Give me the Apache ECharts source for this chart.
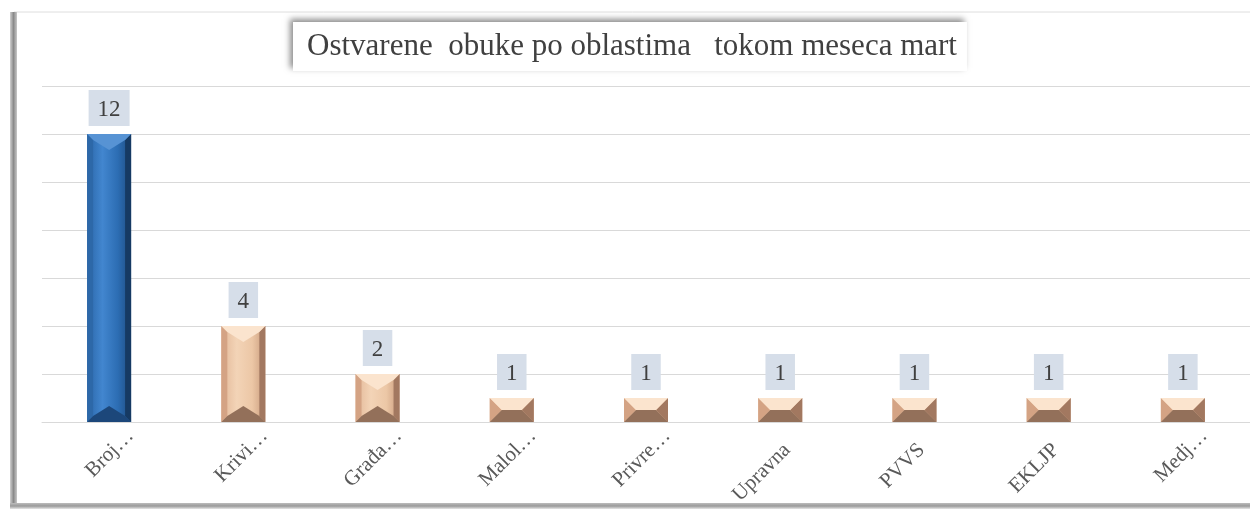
<!DOCTYPE html>
<html>
<head>
<meta charset="utf-8">
<title>Ostvarene obuke</title>
<script src="https://cdn.jsdelivr.net/npm/echarts@6/dist/echarts.min.js"></script>
<style>
  html, body { margin: 0; padding: 0; background: #fff; }
  #main { width: 1250px; height: 511px; }
</style>
</head>
<body>
<div id="main"></div>
<script>
// podaci
var categories = ['Broj…', 'Krivi…', 'Građa…', 'Malol…', 'Privre…', 'Upravna', 'PVVS', 'EKLJP', 'Medj…'];
var values = [12, 4, 2, 1, 1, 1, 1, 1, 1];
var yTicks = [0, 2, 4, 6, 8, 10, 12, 14];

var serif = '"Liberation Serif", "DejaVu Serif", serif';

// boje za 3D ivice (prva kolona plava, ostale bez)
var blue = { f0: '#2a66a8', f1: '#4286cf', f2: '#2c6db3', f3: '#1d4b80', top: '#5793d4', left: '#2d68a8', right: '#163a63', bottom: '#1c477a' };
var tan = { f0: '#e2b797', f1: '#f3d4b7', f2: '#ecc7a6', f3: '#c99b7c', top: '#fbe4ce', left: '#d4a384', right: '#a27860', bottom: '#93705a' };

var chart = echarts.init(document.getElementById('main'));

function bevelBar(params, api) {
  var idx = api.value(0);
  var top = api.coord([idx, api.value(1)]);
  var base = api.coord([idx, 0]);
  var w = 44;
  var xc = top[0];
  var x0 = xc - w / 2, x1 = xc + w / 2;
  var y0 = top[1], y1 = base[1];
  var h = y1 - y0;
  var small = h <= 30;
  var d = small ? h / 2 : 16;
  var sw = small ? h / 2 : 6;
  var tw = small ? w / 2 - sw : 0;
  var c = idx === 0 ? blue : tan;
  var faceFill = new echarts.graphic.LinearGradient(0, 0, 1, 0, [
    { offset: 0, color: c.f0 },
    { offset: 0.35, color: c.f1 },
    { offset: 0.7, color: c.f2 },
    { offset: 1, color: c.f3 }
  ]);
  return {
    type: 'group',
    children: [
      { type: 'rect', shape: { x: x0, y: y0, width: w, height: h }, style: { fill: faceFill } },
      { type: 'polygon', shape: { points: [[x0, y0], [x0 + sw, y0 + sw], [x0 + sw, y1 - sw], [x0, y1]] }, style: { fill: c.left } },
      { type: 'polygon', shape: { points: [[x1, y0], [x1 - sw, y0 + sw], [x1 - sw, y1 - sw], [x1, y1]] }, style: { fill: c.right } },
      { type: 'polygon', shape: { points: [[x0, y0], [x1, y0], [x1 - sw, y0 + sw], [xc + tw, y0 + d], [xc - tw, y0 + d], [x0 + sw, y0 + sw]] }, style: { fill: c.top } },
      { type: 'polygon', shape: { points: [[x0, y1], [x1, y1], [x1 - sw, y1 - sw], [xc + tw, y1 - d], [xc - tw, y1 - d], [x0 + sw, y1 - sw]] }, style: { fill: c.bottom } }
    ]
  };
}

// skraceni nazivi se u originalu zavrsavaju desnije
var xData = categories.map(function (name) {
  var cut = name.charAt(name.length - 1) === '…';
  return { value: name, textStyle: { padding: [0, cut ? -30 : -10, 0, 0] } };
});

chart.setOption({
  animation: false,
  backgroundColor: '#fff',
  title: {
    text: 'Ostvarene  obuke po oblastima   tokom meseca mart',
    left: 293,
    top: 22,
    padding: [9, 10, 9, 14],
    backgroundColor: '#fff',
    shadowColor: 'rgba(0,0,0,0.45)',
    shadowBlur: 6,
    shadowOffsetX: -3,
    shadowOffsetY: -3,
    textStyle: { fontFamily: serif, fontSize: 31, fontWeight: 'normal', color: '#404040' }
  },
  graphic: [
    { type: 'rect', z: -10, shape: { x: 14, y: 12, width: 1240, height: 493 }, style: { fill: 'none', stroke: '#dedede', lineWidth: 1 } },
    { type: 'rect', z: -9, shape: { x: 10, y: 12, width: 7, height: 496 },
      style: { fill: new echarts.graphic.LinearGradient(0, 0, 1, 0, [{ offset: 0, color: '#d0d0d0' }, { offset: 0.5, color: '#8a8a8a' }, { offset: 1, color: '#c8c8c8' }]) } },
    { type: 'rect', z: -9, shape: { x: 10, y: 503, width: 1240, height: 6 },
      style: { fill: new echarts.graphic.LinearGradient(0, 0, 0, 1, [{ offset: 0, color: '#bdbdbd' }, { offset: 0.5, color: '#9a9a9a' }, { offset: 1, color: '#e6e6e6' }]) } }
  ],
  grid: { left: 42, right: 0, top: 86, bottom: 89 },
  xAxis: {
    type: 'category',
    data: xData,
    axisLine: { lineStyle: { color: '#d9d9d9' } },
    axisTick: { show: false },
    axisLabel: { rotate: 45, interval: 0, margin: 32, fontFamily: serif, fontSize: 21, color: '#595959' }
  },
  yAxis: {
    type: 'value',
    min: yTicks[0],
    max: yTicks[yTicks.length - 1],
    interval: 2,
    axisLine: { show: false },
    axisTick: { show: false },
    axisLabel: { show: false },
    splitLine: { lineStyle: { color: '#d9d9d9', width: 1 } }
  },
  series: [
    {
      type: 'custom',
      renderItem: bevelBar,
      encode: { x: 0, y: 1 },
      data: values.map(function (v, i) { return [i, v]; }),
      z: 3
    },
    {
      type: 'bar',
      data: values,
      barWidth: 44,
      itemStyle: { color: 'rgba(0,0,0,0)' },
      label: {
        show: true,
        position: 'top',
        distance: 8,
        fontFamily: serif,
        fontSize: 23,
        lineHeight: 23,
        color: '#404040',
        backgroundColor: '#d6dee9',
        padding: [8, 9, 5, 9]
      },
      z: 4
    }
  ]
});
</script>
</body>
</html>
